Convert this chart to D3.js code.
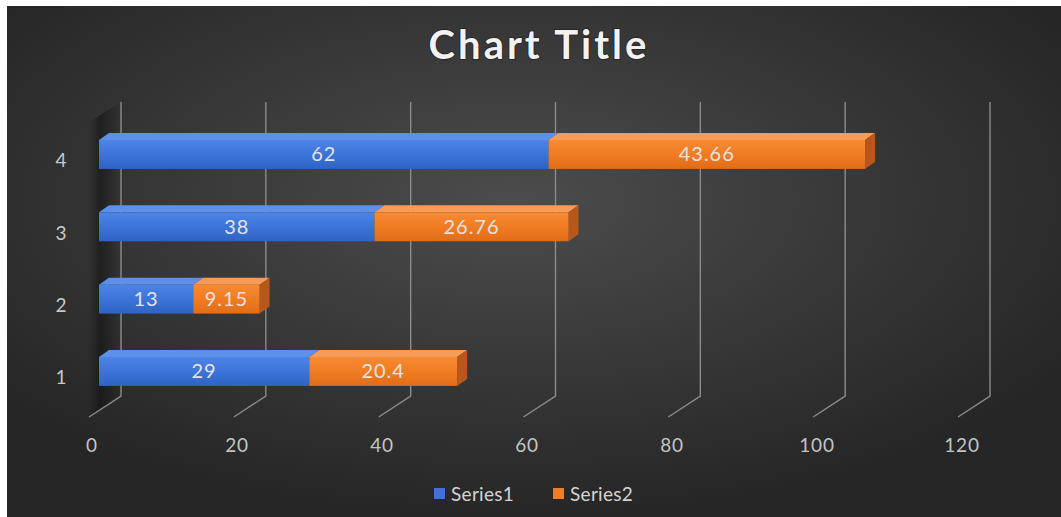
<!DOCTYPE html>
<html>
<head>
<meta charset="utf-8">
<script src="https://cdn.jsdelivr.net/npm/d3@7/dist/d3.min.js"></script>
<style>
  html, body { margin: 0; padding: 0; background: #ffffff; }
  svg { display: block; }
</style>
</head>
<body>
<svg id="chart" width="1061" height="517"></svg>
<script>
// ---- data ----
const categories = ["1", "2", "3", "4"];
const series1 = [29, 13, 38, 62];
const series2 = [20.4, 9.15, 26.76, 43.66];
const seriesNames = ["Series1", "Series2"];
const xTicks = [0, 20, 40, 60, 80, 100, 120];
const chartTitle = "Chart Title";

// ---- layout ----
const W = 1061, H = 517;
const svg = d3.select("#chart");
const FONT = "Lato, 'Open Sans', 'DejaVu Sans', sans-serif";

const defs = svg.append("defs");
const bg = defs.append("radialGradient").attr("id", "bg")
  .attr("cx", "48%").attr("cy", "38%").attr("r", "62%");
bg.append("stop").attr("offset", "0%").attr("stop-color", "#4c4c4c");
bg.append("stop").attr("offset", "100%").attr("stop-color", "#262626");

function vgrad(id, stops) {
  const g = defs.append("linearGradient").attr("id", id)
    .attr("x1", 0).attr("y1", 0).attr("x2", 0).attr("y2", 1);
  stops.forEach(s => g.append("stop").attr("offset", s[0]).attr("stop-color", s[1]));
}
vgrad("blueFront", [["0%", "#4d84e6"], ["50%", "#3d74d9"], ["100%", "#2f63c4"]]);
vgrad("orangeFront", [["0%", "#f88a33"], ["50%", "#f07c22"], ["100%", "#e06d17"]]);

const wallG = defs.append("linearGradient").attr("id", "wall")
  .attr("x1", 0).attr("y1", 0).attr("x2", 1).attr("y2", 0);
wallG.append("stop").attr("offset", "0%").attr("stop-color", "#000").attr("stop-opacity", 0.0);
wallG.append("stop").attr("offset", "35%").attr("stop-color", "#000").attr("stop-opacity", 0.38);
wallG.append("stop").attr("offset", "100%").attr("stop-color", "#000").attr("stop-opacity", 0.0);

// background
svg.append("rect").attr("x", 7).attr("y", 6).attr("width", W - 7).attr("height", H - 6)
  .attr("fill", "url(#bg)");

// scales
const xBar = d3.scaleLinear().domain([0, 120]).range([99, 969]);     // bar front faces
const xBack = d3.scaleLinear().domain([0, 120]).range([121, 990]);   // back wall
const xFront = d3.scaleLinear().domain([0, 120]).range([92, 962]);   // front floor labels
const yBand = d3.scaleBand().domain(categories.slice().reverse())
  .range([118.3, 407.6]).paddingInner(0.6).paddingOuter(0.3);

const wallTop = 102, wallBottom = 396, floorDx = -32, floorDy = 21;
const depthDx = 10, depthDy = -7;

// left wall shadow
svg.append("path")
  .attr("d", `M${xBack(0)},${wallTop} L${xBack(0)},${wallBottom} L${xBack(0) + floorDx},${wallBottom + floorDy} L${xBack(0) + floorDx},${wallTop + 20} Z`)
  .attr("fill", "url(#wall)");

// gridlines on back wall + floor
const grid = svg.append("g").attr("stroke", "#8c8c8c").attr("stroke-width", 1.4).attr("fill", "none");
xTicks.forEach(t => {
  const xb = xBack(t);
  grid.append("path")
    .attr("d", `M${xb},${wallTop} L${xb},${wallBottom} L${xb + floorDx},${wallBottom + floorDy}`);
});

// x tick labels
svg.append("g").selectAll("text").data(xTicks).join("text")
  .attr("x", d => xFront(d)).attr("y", 452)
  .attr("text-anchor", "middle")
  .attr("font-family", FONT).attr("font-size", 19)
  .attr("fill", "#c4c4c4").attr("letter-spacing", 0.8)
  .text(d => d);

// category labels
svg.append("g").selectAll("text").data(categories).join("text")
  .attr("x", 61).attr("y", d => yBand(d) + yBand.bandwidth() / 2 + 13)
  .attr("text-anchor", "middle")
  .attr("font-family", FONT).attr("font-size", 19)
  .attr("fill", "#c8c8c8")
  .text(d => d);

// bars
const segs = [];
categories.forEach((c, i) => {
  segs.push({ c, s: 0, v0: 0, v1: series1[i], val: series1[i], last: false });
  segs.push({ c, s: 1, v0: series1[i], v1: series1[i] + series2[i], val: series2[i], last: true });
});
const topCol = ["#5d90e8", "#f69b58"];
const sideCol = ["#2a56a8", "#b8571b"];
const frontFill = ["url(#blueFront)", "url(#orangeFront)"];

const barsG = svg.append("g");
segs.forEach(d => {
  const x0 = xBar(d.v0), x1 = xBar(d.v1);
  const y0 = yBand(d.c), y1 = y0 + yBand.bandwidth();
  barsG.append("path")
    .attr("d", `M${x0},${y0} L${x0 + depthDx},${y0 + depthDy} L${x1 + depthDx},${y0 + depthDy} L${x1},${y0} Z`)
    .attr("fill", topCol[d.s]);
  if (d.last) {
    barsG.append("path")
      .attr("d", `M${x1},${y0} L${x1 + depthDx},${y0 + depthDy} L${x1 + depthDx},${y1 + depthDy} L${x1},${y1} Z`)
      .attr("fill", sideCol[d.s]);
  }
  barsG.append("rect")
    .attr("x", x0).attr("y", y0).attr("width", x1 - x0).attr("height", y1 - y0)
    .attr("fill", frontFill[d.s]);
});

// data labels
svg.append("g").selectAll("text").data(segs).join("text")
  .attr("x", d => (xBar(d.v0) + xBar(d.v1)) / 2)
  .attr("y", d => yBand(d.c) + yBand.bandwidth() / 2 + 7)
  .attr("text-anchor", "middle")
  .attr("font-family", FONT).attr("font-size", 20)
  .attr("fill", "#e4e4e4").attr("letter-spacing", 1)
  .text(d => d.val);

// title
svg.append("text")
  .attr("x", 539).attr("y", 59)
  .attr("text-anchor", "middle")
  .attr("font-family", FONT).attr("font-size", 40).attr("font-weight", "bold")
  .attr("letter-spacing", 3)
  .attr("fill", "#f2f2f2")
  .style("paint-order", "stroke")
  .attr("stroke", "rgba(0,0,0,0.35)").attr("stroke-width", 2)
  .text(chartTitle);

// legend
const legendColors = ["#4072d6", "#f07e26"];
const legendX = [434, 553];
const lg = svg.append("g");
seriesNames.forEach((n, i) => {
  lg.append("rect").attr("x", legendX[i]).attr("y", 488).attr("width", 11).attr("height", 11)
    .attr("fill", legendColors[i]);
  lg.append("text").attr("x", legendX[i] + 17).attr("y", 501)
    .attr("font-family", FONT).attr("font-size", 19)
    .attr("fill", "#d4d4d4").attr("letter-spacing", 0.3)
    .text(n);
});
</script>
</body>
</html>
